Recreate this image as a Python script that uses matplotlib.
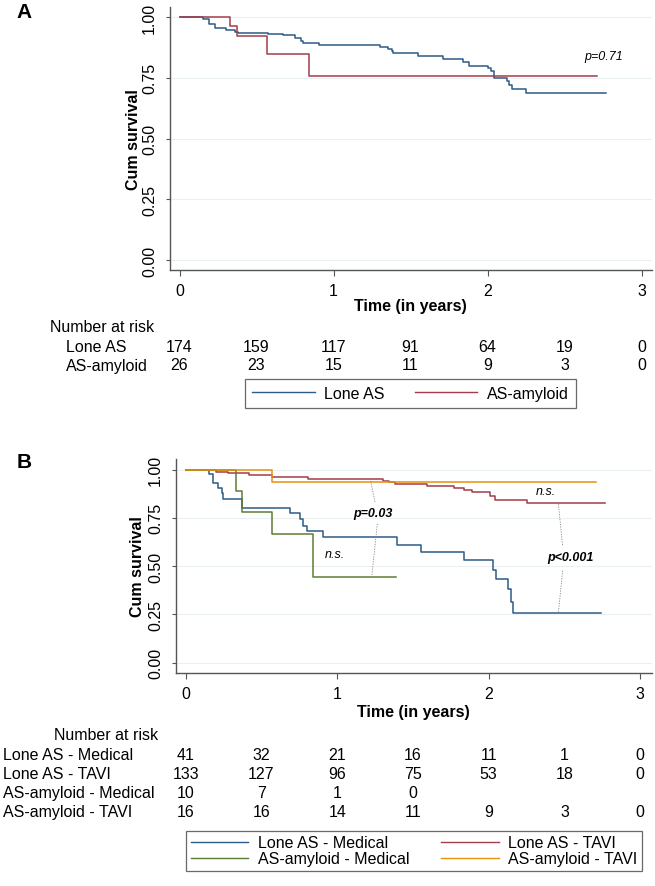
import matplotlib
matplotlib.use('Agg')
import matplotlib.pyplot as plt
from matplotlib.lines import Line2D
from matplotlib.transforms import blended_transform_factory

plt.rcParams['font.family'] = ['Liberation Sans', 'DejaVu Sans']

W, H = 655, 887

# colours (Stata-like)
c_blue = '#2e5b86'
c_red = '#a33d49'
c_green = '#5b7d33'
c_orange = '#e8900f'

# ---- Panel A data ----
a_lone_t = [0, 0.155, 0.19, 0.23, 0.30, 0.36, 0.38, 0.576, 0.674, 0.75, 0.79, 0.80, 0.908,
            1.302, 1.356, 1.378, 1.389, 1.546, 1.713, 1.843, 1.882, 2.005, 2.023, 2.042,
            2.124, 2.142, 2.157, 2.25, 2.767]
a_lone_s = [1.0, 0.99, 0.971, 0.953, 0.947, 0.94, 0.933, 0.929, 0.924, 0.914, 0.90, 0.893, 0.885,
            0.878, 0.868, 0.861, 0.85, 0.841, 0.827, 0.814, 0.80, 0.789, 0.779, 0.748,
            0.738, 0.72, 0.704, 0.686, 0.686]
a_amy_t = [0, 0.328, 0.375, 0.566, 0.843, 2.709]
a_amy_s = [1.0, 0.962, 0.923, 0.846, 0.758, 0.758]

risk_times = [0, 0.5, 1, 1.5, 2, 2.5, 3]
a_risk_labels = ['Lone AS', 'AS-amyloid']
a_risk = [[174, 159, 117, 91, 64, 19, 0],
          [26, 23, 15, 11, 9, 3, 0]]

# ---- Panel B data ----
b_lonemed_t = [0, 0.156, 0.183, 0.215, 0.237, 0.244, 0.37, 0.688, 0.754, 0.776, 0.798, 0.904,
               1.397, 1.55, 1.837, 2.03, 2.048, 2.13, 2.147, 2.16, 2.74]
b_lonemed_s = [1.0, 0.976, 0.93, 0.905, 0.88, 0.848, 0.80, 0.776, 0.745, 0.71, 0.684, 0.653,
               0.61, 0.572, 0.53, 0.482, 0.433, 0.382, 0.313, 0.256, 0.256]
b_lonetavi_t = [0, 0.2, 0.28, 0.42, 0.57, 0.81, 1.30, 1.34, 1.38, 1.59, 1.77, 1.84, 1.89,
                2.01, 2.04, 2.25, 2.77]
b_lonetavi_s = [1.0, 0.99, 0.98, 0.972, 0.964, 0.953, 0.943, 0.935, 0.925, 0.915, 0.905, 0.897,
                0.883, 0.865, 0.845, 0.826, 0.826]
b_amymed_t = [0, 0.332, 0.37, 0.568, 0.842, 1.386]
b_amymed_s = [1.0, 0.889, 0.778, 0.667, 0.444, 0.444]
b_amytavi_t = [0, 0.568, 2.71]
b_amytavi_s = [1.0, 0.9375, 0.9375]

b_risk_labels = ['Lone AS - Medical', 'Lone AS - TAVI', 'AS-amyloid - Medical', 'AS-amyloid - TAVI']
b_risk = [[41, 32, 21, 16, 11, 1, 0],
          [133, 127, 96, 75, 53, 18, 0],
          [10, 7, 1, 0],
          [16, 16, 14, 11, 9, 3, 0]]


def fy(y):
    return 1 - y / H


def make_axes(fig, left, top, right, bottom):
    return fig.add_axes([left / W, 1 - bottom / H, (right - left) / W, (bottom - top) / H])


def style_axes(ax, xlim, ylim):
    ax.set_xlim(*xlim)
    ax.set_ylim(*ylim)
    for s in ['top', 'right']:
        ax.spines[s].set_visible(False)
    for s in ['left', 'bottom']:
        ax.spines[s].set_color('#555555')
        ax.spines[s].set_linewidth(1.0)
    ax.set_xticks([0, 1, 2, 3])
    ax.set_yticks([0, 0.25, 0.5, 0.75, 1.0])
    ax.set_yticklabels(['0.00', '0.25', '0.50', '0.75', '1.00'])
    ax.tick_params(axis='x', length=4, width=0.8, color='#555555', pad=5, labelsize=11.5)
    ax.tick_params(axis='y', length=3, width=0.8, color='#555555', pad=6, labelsize=11.5, labelrotation=90)
    for lab in ax.get_yticklabels():
        lab.set_va('center')
    for yv in [0, 0.25, 0.5, 0.75, 1.0]:
        ax.axhline(yv, color='#eaf1f3', lw=0.8, zorder=0)


def risk_table(fig, ax, title_xy, labels, rows, label_x, row_ys, label_ha='left'):
    trans = blended_transform_factory(ax.transData, fig.transFigure)
    fig.text(title_xy[0] / W, fy(title_xy[1]), 'Number at risk', ha='center', va='center', fontsize=11.5)
    for lab, row, y in zip(labels, rows, row_ys):
        fig.text(label_x / W, fy(y), lab, ha=label_ha, va='center', fontsize=11.5)
        for t, n in zip(risk_times, row):
            ax.text(t, fy(y), str(n), transform=trans, ha='center', va='center', fontsize=11.5)


fig = plt.figure(figsize=(W / 100, H / 100), dpi=100)

# ================= Panel A =================
axA = make_axes(fig, 169.5, 8.3, 652, 271)
style_axes(axA, (-0.065, 3.068), (-0.041, 1.04))
axA.step(a_lone_t, a_lone_s, where='post', color=c_blue, lw=1.1)
axA.step(a_amy_t, a_amy_s, where='post', color=c_red, lw=1.1)
axA.text(2.752, 0.838, 'p=0.71', style='italic', fontsize=9, ha='center', va='center')
fig.text(133 / W, fy(139.5), 'Cum survival', rotation=90, ha='center', va='center',
         fontsize=11.5, fontweight='bold')
fig.text(410.5 / W, fy(306.7), 'Time (in years)', ha='center', va='center',
         fontsize=11.5, fontweight='bold')
fig.text(24 / W, fy(13), 'A', ha='center', va='center', fontsize=15, fontweight='bold')

risk_table(fig, axA, (102, 328), a_risk_labels, a_risk, 66, [347, 366])

legA = fig.legend([Line2D([], [], color=c_blue, lw=1.0), Line2D([], [], color=c_red, lw=1.0)],
                  ['Lone AS', 'AS-amyloid'], loc='center', bbox_to_anchor=(410.5 / W, fy(394.5)),
                  ncol=2, frameon=True, fancybox=False, edgecolor='#444444', fontsize=11.5,
                  handlelength=3.9, handletextpad=0.6, columnspacing=1.9, borderpad=0.45,
                  borderaxespad=0)
legA.get_frame().set_linewidth(0.9)

# ================= Panel B =================
axB = make_axes(fig, 175.7, 460, 651.7, 674.3)
style_axes(axB, (-0.066, 3.076), (-0.055, 1.055))
axB.step(b_lonemed_t, b_lonemed_s, where='post', color=c_blue, lw=1.1)
axB.step(b_lonetavi_t, b_lonetavi_s, where='post', color=c_red, lw=1.1)
axB.step(b_amymed_t, b_amymed_s, where='post', color=c_green, lw=1.1)
axB.step(b_amytavi_t, b_amytavi_s, where='post', color=c_orange, lw=1.1)

dot = dict(color='#888888', lw=0.6, ls=(0, (1.5, 1.5)))
axB.plot([1.221, 1.25], [0.94, 0.831], **dot)
axB.plot([1.265, 1.228], [0.719, 0.446], **dot)
axB.plot([2.46, 2.488], [0.822, 0.606], **dot)
axB.plot([2.488, 2.46], [0.477, 0.256], **dot)
axB.text(1.234, 0.776, 'p=0.03', style='italic', fontweight='bold', fontsize=9, ha='center', va='center')
axB.text(0.985, 0.563, 'n.s.', style='italic', fontsize=9, ha='center', va='center')
axB.text(2.378, 0.891, 'n.s.', style='italic', fontsize=9, ha='center', va='center')
axB.text(2.541, 0.546, 'p<0.001', style='italic', fontweight='bold', fontsize=9, ha='center', va='center')

fig.text(138 / W, fy(567), 'Cum survival', rotation=90, ha='center', va='center',
         fontsize=11.5, fontweight='bold')
fig.text(413.5 / W, fy(713), 'Time (in years)', ha='center', va='center',
         fontsize=11.5, fontweight='bold')
fig.text(24 / W, fy(463), 'B', ha='center', va='center', fontsize=15, fontweight='bold')

risk_table(fig, axB, (106, 736), b_risk_labels, b_risk, 3.3, [755.7, 774.5, 793.5, 813])

legB = fig.legend([Line2D([], [], color=c_blue, lw=1.0), Line2D([], [], color=c_green, lw=1.0),
                   Line2D([], [], color=c_red, lw=1.0), Line2D([], [], color=c_orange, lw=1.0)],
                  ['Lone AS - Medical', 'AS-amyloid - Medical', 'Lone AS - TAVI', 'AS-amyloid - TAVI'],
                  loc='center', bbox_to_anchor=(414.2 / W, fy(851.7)),
                  ncol=2, frameon=True, fancybox=False, edgecolor='#444444', fontsize=11.5,
                  handlelength=3.6, handletextpad=0.6, columnspacing=2.0, borderpad=0.3,
                  labelspacing=0.05, borderaxespad=0)
legB.get_frame().set_linewidth(0.9)

fig.savefig('out.png', dpi=100)
